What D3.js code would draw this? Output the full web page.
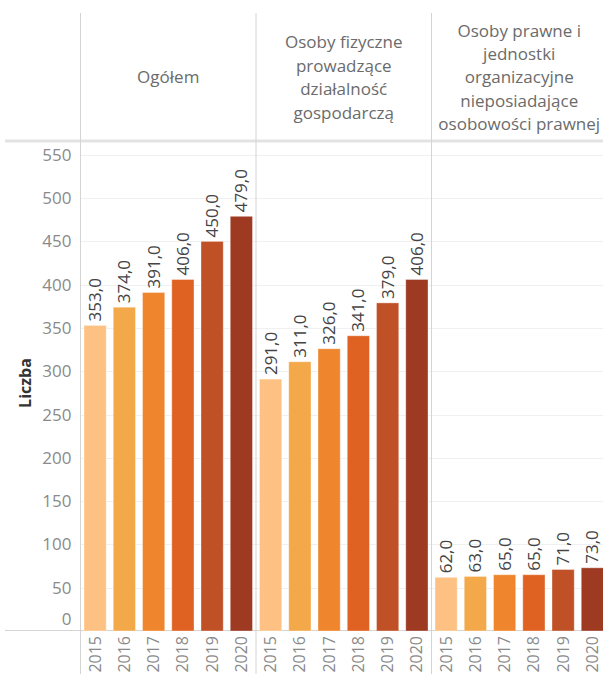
<!DOCTYPE html>
<html>
<head>
<meta charset="utf-8">
<script src="https://cdn.jsdelivr.net/npm/d3@7"></script>
<style>
  html, body { margin: 0; padding: 0; background: #fff; }
  svg { display: block; font-family: "Open Sans", sans-serif; }
</style>
</head>
<body>
<svg id="chart" width="603" height="674"></svg>
<script>
// Liczba podmiotów według formy prawnej, lata 2015–2020
const groups = [
  ["Ogółem"],
  ["Osoby fizyczne", "prowadzące", "działalność", "gospodarczą"],
  ["Osoby prawne i", "jednostki", "organizacyjne", "nieposiadające", "osobowości prawnej"]
];
const years = ["2015", "2016", "2017", "2018", "2019", "2020"];
const ogolem = [353, 374, 391, 406, 450, 479];
const osobyFizyczne = [291, 311, 326, 341, 379, 406];
const osobyPrawne = [62, 63, 65, 65, 71, 73];
const yTicks = [0, 50, 100, 150, 200, 250, 300, 350, 400, 450, 500, 550];
const yearColors = ["#fdc283", "#f3a84a", "#ef852c", "#df6222", "#c05026", "#9d3a21"];

const series = [ogolem, osobyFizyczne, osobyPrawne];

const svg = d3.select("#chart");
const W = 603, H = 674;
const paneLeft = 80.5, paneRight = 607;
const headerTop = 13, paneTop = 141, baseY = 631;

const fmt = v => d3.format(".1f")(v).replace(".", ",");

const xGroup = d3.scaleBand().domain(d3.range(groups.length)).range([paneLeft, paneRight]);
const xYear = d3.scaleBand().domain(years).range([0, xGroup.bandwidth()]).paddingInner(0.24).paddingOuter(0.12);
const y = d3.scaleLinear().domain([0, 566]).range([baseY, paneTop]);
const color = d3.scaleOrdinal().domain(years).range(yearColors);

// grid lines
svg.append("g").selectAll("line").data(yTicks.filter(t => t > 0)).join("line")
  .attr("x1", paneLeft).attr("x2", W)
  .attr("y1", d => Math.round(y(d)) + 0.5).attr("y2", d => Math.round(y(d)) + 0.5)
  .attr("stroke", "#f0f0f0").attr("stroke-width", 1);

// header / pane separator
svg.append("line").attr("x1", 5).attr("x2", W).attr("y1", paneTop).attr("y2", paneTop)
  .attr("stroke", "#e3e3e3").attr("stroke-width", 3);

// baseline
svg.append("line").attr("x1", 5).attr("x2", W).attr("y1", baseY - 0.5).attr("y2", baseY - 0.5)
  .attr("stroke", "#d4d4d4").attr("stroke-width", 1);

// vertical separators
svg.append("g").selectAll("line").data(d3.range(groups.length)).join("line")
  .attr("x1", d => xGroup(d)).attr("x2", d => xGroup(d))
  .attr("y1", headerTop).attr("y2", H)
  .attr("stroke", "#d4d4d4").attr("stroke-width", 1);

// y axis
const yAxis = svg.append("g").attr("transform", `translate(${paneLeft - 9},0)`);
yAxis.selectAll("text").data(yTicks).join("text")
  .attr("x", 0)
  .attr("y", d => d === 0 ? y(d) - 12 : y(d))
  .attr("dy", "0.35em")
  .attr("text-anchor", "end")
  .attr("fill", "#8a8a8a")
  .attr("font-size", 17)
  .text(d => d);

svg.append("text")
  .attr("transform", `translate(25,383) rotate(-90)`)
  .attr("text-anchor", "middle").attr("dy", "0.35em")
  .attr("font-size", 16).attr("font-weight", "bold").attr("fill", "#333")
  .text("Liczba");

// panels
const panel = svg.append("g").selectAll("g").data(groups).join("g")
  .attr("transform", (d, i) => `translate(${xGroup(i)},0)`);

// header titles
panel.append("text")
  .attr("x", xGroup.bandwidth() / 2)
  .attr("text-anchor", "middle")
  .attr("fill", "#6b6b6b")
  .attr("font-size", 17)
  .each(function (lines) {
    const t = d3.select(this);
    const lh = 23.4, cy = 77.5;
    lines.forEach((ln, k) => {
      t.append("tspan")
        .attr("x", xGroup.bandwidth() / 2)
        .attr("y", cy + (k - (lines.length - 1) / 2) * lh)
        .attr("dy", "0.35em")
        .text(ln);
    });
  });

// bars
panel.each(function (g, i) {
  const p = d3.select(this);
  const data = years.map((yr, k) => ({ year: yr, value: series[i][k] }));
  p.selectAll("rect").data(data).join("rect")
    .attr("x", d => xYear(d.year))
    .attr("width", xYear.bandwidth())
    .attr("y", d => y(d.value))
    .attr("height", d => y(0) - y(d.value))
    .attr("fill", d => color(d.year))
    .attr("stroke", "rgba(255,255,255,0.35)")
    .attr("stroke-width", 1);

  p.selectAll("text.val").data(data).join("text").attr("class", "val")
    .attr("transform", d => `translate(${xYear(d.year) + xYear.bandwidth() / 2},${y(d.value) - 4}) rotate(-90)`)
    .attr("text-anchor", "start").attr("dy", "0.35em")
    .attr("font-size", 17).attr("fill", "#444")
    .text(d => fmt(d.value));

  p.selectAll("text.yr").data(years).join("text").attr("class", "yr")
    .attr("transform", d => `translate(${xYear(d) + xYear.bandwidth() / 2},${baseY + 5}) rotate(-90)`)
    .attr("text-anchor", "end").attr("dy", "0.35em")
    .attr("font-size", 16).attr("fill", "#8a8a8a")
    .text(d => d);
});
</script>
</body>
</html>
